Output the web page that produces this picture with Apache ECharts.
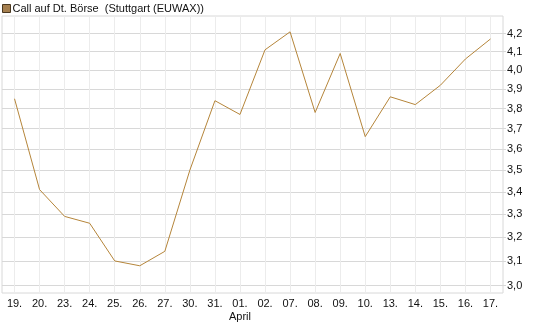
<!DOCTYPE html>
<html>
<head>
<meta charset="utf-8">
<script src="https://cdn.jsdelivr.net/npm/echarts@6/dist/echarts.min.js"></script>
<style>
html,body{margin:0;padding:0;background:#fff;}
#chart{width:545px;height:327px;}
</style>
</head>
<body>
<div id="chart"></div>
<script>
var categories = ['19.', '20.', '23.', '24.', '25.', '26.', '27.', '30.', '31.', '01.', '02.', '07.', '08.', '09.', '10.', '13.', '14.', '15.', '16.', '17.'];
var values = [3.85, 3.41, 3.29, 3.26, 3.10, 3.08, 3.14, 3.50, 3.84, 3.77, 4.11, 4.21, 3.78, 4.09, 3.66, 3.86, 3.82, 3.92, 4.06, 4.17];
var yTicks = [3.0, 3.1, 3.2, 3.3, 3.4, 3.5, 3.6, 3.7, 3.8, 3.9, 4.0, 4.1, 4.2];
var monthLabelIndex = 9;
var monthLabel = 'April';
var seriesName = 'Call auf Dt. Börse  (Stuttgart (EUWAX))';

var chart = echarts.init(document.getElementById('chart'));
chart.setOption({
  animation: false,
  textStyle: {fontFamily: 'Liberation Sans, Arial, sans-serif'},
  legend: {
    left: 2, top: 3, padding: 0,
    itemWidth: 8, itemHeight: 8, itemGap: 4,
    icon: 'rect',
    textStyle: {fontSize: 11, color: '#111', padding: [0,0,0,-3]},
    data: [{name: seriesName, itemStyle: {color: '#a57f4f', borderColor: '#4a3820', borderWidth: 1}}]
  },
  grid: {left: 2, right: 42, top: 16, bottom: 34, show: true, borderColor: '#d8d8d8', borderWidth: 1},
  xAxis: {
    type: 'category',
    data: categories,
    boundaryGap: true,
    axisLine: {show: false},
    axisTick: {show: false, alignWithLabel: true},
    splitLine: {show: true, alignWithLabel: true, lineStyle: {color: '#ececec', width: 1}},
    axisLabel: {
      interval: 0, fontSize: 11, color: '#111', margin: 4, lineHeight: 13,
      formatter: function (v, i) { return i === monthLabelIndex ? v + '\n' + monthLabel : v; }
    }
  },
  yAxis: {
    type: 'log',
    logBase: 10,
    position: 'right',
    min: 2.97, max: 4.30,
    axisLine: {show: false},
    axisTick: {show: true, customValues: yTicks, length: 3, lineStyle: {color: '#d8d8d8'}},
    splitLine: {show: true, lineStyle: {color: '#d8d8d8', width: 1}},
    axisLabel: {
      customValues: yTicks, fontSize: 11, color: '#111', margin: 4,
      formatter: function (v) { return Number(v).toFixed(1).replace('.', ','); }
    }
  },
  series: [{
    name: seriesName,
    type: 'line',
    data: values,
    symbol: 'none',
    lineStyle: {color: '#b5853a', width: 1},
    itemStyle: {color: '#a57f4f'}
  }]
});
</script>
</body>
</html>
